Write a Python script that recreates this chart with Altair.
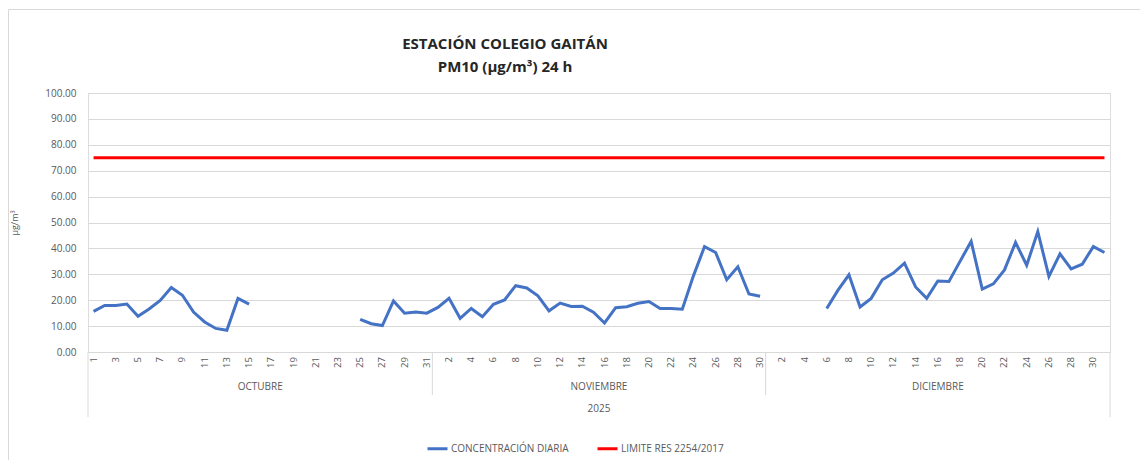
import altair as alt
import pandas as pd

# ---- data ----
title_lines = ["ESTACIÓN COLEGIO GAITÁN", "PM10 (µg/m³) 24 h"]
months = ["OCTUBRE", "NOVIEMBRE", "DICIEMBRE"]
year_label = "2025"
oct_vals = [15.7, 18.0, 18.0, 18.5, 13.8, 16.6, 19.9, 24.9, 21.9, 15.4, 11.6, 9.1, 8.4, 20.7, 18.5,
            None, None, None, None, None, None, None, None, None,
            12.6, 10.9, 10.2, 19.7, 15.0, 15.4, 15.0]
nov_vals = [17.2, 20.7, 13.0, 16.8, 13.6, 18.4, 20.1, 25.6, 24.7, 21.7, 15.9, 18.9, 17.6, 17.7, 15.4,
            11.2, 17.1, 17.5, 18.8, 19.5, 16.8, 16.8, 16.5, 29.4, 40.7, 38.4, 27.9, 32.9, 22.4, 21.5]
dec_vals = [None, None, None, None, None,
            16.8, 23.8, 29.8, 17.4, 20.7, 27.9, 30.5, 34.3, 25.1, 20.7, 27.4, 27.2, 35.0, 42.7, 24.3,
            26.3, 31.7, 42.3, 33.5, 46.5, 29.2, 37.9, 32.1, 33.9, 40.7, 38.4]
limit_value = 75
series_names = ["CONCENTRACIÓN DIARIA", "LIMITE RES 2254/2017"]
series_colors = ["#4472C4", "#FF0000"]

month_vals = [oct_vals, nov_vals, dec_vals]

# ---- build tables ----
rows = []
label_rows = []
idx = 0
seg = 0
prev_none = True
for m, vals in zip(months, month_vals):
    for d, v in enumerate(vals, start=1):
        if idx % 2 == 0:
            label_rows.append({"x": idx + 0.5, "label": str(d)})
        if v is None:
            prev_none = True
        else:
            if prev_none:
                seg += 1
            prev_none = False
            rows.append({"x": idx + 0.5, "y": v, "series": series_names[0], "seg": f"c{seg}"})
        rows.append({"x": idx + 0.5, "y": limit_value, "series": series_names[1], "seg": "lim"})
        idx += 1
n_total = idx
df = pd.DataFrame(rows)
label_df = pd.DataFrame(label_rows)

starts = []
s = 0
for vals in month_vals:
    starts.append(s)
    s += len(vals)
month_df = pd.DataFrame({"name": months,
                         "xc": [st + len(v) / 2 for st, v in zip(starts, month_vals)]})
year_df = pd.DataFrame({"name": [year_label], "xc": [n_total / 2]})
inner_df = pd.DataFrame({"xb": starts[1:]})
outer_df = pd.DataFrame({"xb": [0, n_total]})

W, H = 1022, 259
FONT = "Open Sans"
GREY = "#595959"

xscale = alt.Scale(domain=[0, n_total], nice=False, zero=False)

lines = alt.Chart(df).mark_line(strokeWidth=3).encode(
    x=alt.X("x:Q", scale=xscale,
            axis=alt.Axis(labels=False, ticks=False, grid=False, domainColor="#d9d9d9",
                          title=None)),
    y=alt.Y("y:Q", scale=alt.Scale(domain=[0, 100], nice=False),
            axis=alt.Axis(values=list(range(0, 101, 10)), format=".2f", labelFontSize=10,
                          labelColor=GREY, labelFont=FONT, ticks=False, domain=False,
                          gridColor="#d9d9d9", labelPadding=12, title="µg/m³",
                          titleFontSize=9, titleFont=FONT, titleColor=GREY,
                          titleFontWeight="normal", titlePadding=25)),
    color=alt.Color("series:N", scale=alt.Scale(domain=series_names, range=series_colors),
                    legend=alt.Legend(title=None, orient="none", legendX=338, legendY=344,
                                      direction="horizontal", symbolType="stroke",
                                      symbolStrokeWidth=3, symbolSize=400, labelFontSize=10,
                                      labelFont=FONT, labelColor=GREY, labelOffset=2,
                                      columnPadding=22)),
    detail="seg:N",
)

day_text = alt.Chart(label_df).mark_text(fontSize=9.5, font=FONT, color=GREY, angle=270,
                                         align="right", baseline="middle").encode(
    x=alt.X("x:Q", scale=xscale), y=alt.value(H + 5), text="label:N")
month_text = alt.Chart(month_df).mark_text(fontSize=10, font=FONT, color=GREY).encode(
    x=alt.X("xc:Q", scale=xscale), y=alt.value(H + 35), text="name:N")
year_text = alt.Chart(year_df).mark_text(fontSize=10, font=FONT, color=GREY).encode(
    x=alt.X("xc:Q", scale=xscale), y=alt.value(H + 57), text="name:N")
inner_rules = alt.Chart(inner_df).mark_rule(color="#d9d9d9", strokeWidth=1).encode(
    x=alt.X("xb:Q", scale=xscale), y=alt.value(H), y2=alt.value(H + 43))
outer_rules = alt.Chart(outer_df).mark_rule(color="#d9d9d9", strokeWidth=1).encode(
    x=alt.X("xb:Q", scale=xscale), y=alt.value(H), y2=alt.value(H + 65))
border = alt.Chart(pd.DataFrame({"a": [0]})).mark_rect(
    fill=None, stroke="#d9d9d9", strokeWidth=1).encode(
    x=alt.value(-79.5), x2=alt.value(W + 60), y=alt.value(-83.5), y2=alt.value(H + 130))
title_df = pd.DataFrame({"t": title_lines, "line": [0, 1]})
title_text = alt.Chart(title_df).mark_text(fontSize=15, font=FONT, fontWeight="bold",
                                           color="#262626", baseline="middle").encode(
    x=alt.value(417),
    y=alt.Y("line:Q", scale=alt.Scale(domain=[0, 1], range=[-49, -26]), axis=None),
    text="t:N")

chart = alt.layer(border, inner_rules, outer_rules, lines, day_text, month_text, year_text,
                  title_text).resolve_scale(y="independent").properties(
    width=W, height=H,
    autosize=alt.AutoSizeParams(type="none"),
    padding={"left": 80, "top": 85, "right": 30, "bottom": 108},
).configure_view(stroke=None).configure(background="white")

chart.save("out.html", embed_options={"renderer": "svg", "actions": False})
